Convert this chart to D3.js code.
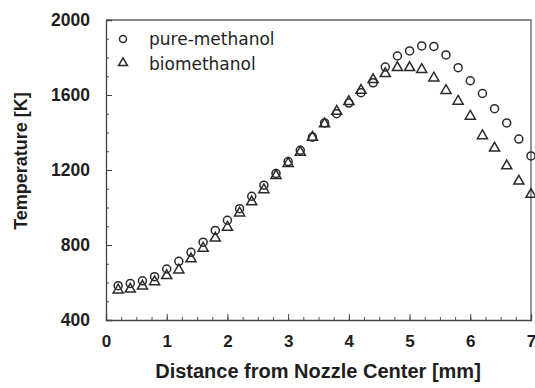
<!DOCTYPE html>
<html><head><meta charset="utf-8">
<script src="https://cdn.jsdelivr.net/npm/d3@7"></script>
<style>
html,body{margin:0;padding:0;background:#fff;}
svg{display:block;font-family:"Liberation Sans",Arial,sans-serif;}
</style></head>
<body><svg id="c" width="535" height="388"></svg>
<script>
const distance = [0.2,0.4,0.6,0.8,1.0,1.2,1.4,1.6,1.8,2.0,2.2,2.4,2.6,2.8,3.0,3.2,3.4,3.6,3.8,4.0,4.2,4.4,4.6,4.8,5.0,5.2,5.4,5.6,5.8,6.0,6.2,6.4,6.6,6.8,7.0];
const pureMethanol = [583,595,609,631,672,713,761,815,878,932,994,1060,1119,1182,1245,1305,1375,1451,1500,1557,1612,1665,1749,1808,1835,1862,1859,1814,1746,1676,1608,1527,1451,1365,1275];
const bioMethanol = [565,570,586,609,642,672,731,788,842,900,976,1035,1100,1175,1240,1300,1380,1451,1518,1570,1630,1687,1719,1751,1751,1741,1696,1629,1572,1492,1388,1322,1227,1146,1075];
const xTicks = [0,1,2,3,4,5,6,7];
const yTicks = [400,800,1200,1600,2000];
const seriesNames = ["pure-methanol","biomethanol"];
const xTitle = "Distance from Nozzle Center [mm]";
const yTitle = "Temperature [K]";

const svg = d3.select("#c");
const L=106, R=531, T=20, B=320;
const x = d3.scaleLinear().domain([0,7]).range([L,R]);
const y = d3.scaleLinear().domain([400,2000]).range([B,T]);
const ink = "#1e1e1e";

// frame (top/right)
svg.append("path").attr("d",`M${L},${T}H${R}V${B}`).attr("fill","none").attr("stroke","#8a8a8a").attr("stroke-width",1.8);

// bottom axis
const gx = svg.append("g").attr("transform",`translate(0,${B})`);
gx.call(d3.axisBottom(x).tickValues(d3.range(0,7.001,0.25)).tickSize(-3).tickFormat(""))
  .call(g=>g.select(".domain").remove());
gx.selectAll("line").attr("stroke","#555");
const gx2 = svg.append("g").attr("transform",`translate(0,${B})`);
gx2.call(d3.axisBottom(x).tickValues(xTicks).tickSize(-6).tickPadding(15).tickFormat(d3.format("d")))
  .call(g=>g.select(".domain").attr("stroke","#444").attr("stroke-width",1.3));
gx2.selectAll("line").attr("stroke","#444");
gx2.selectAll("text").attr("font-size",17).attr("font-weight","bold").attr("fill",ink).attr("font-family","Liberation Sans, Arial, sans-serif");

// left axis
const gy = svg.append("g").attr("transform",`translate(${L},0)`);
gy.call(d3.axisLeft(y).tickValues(d3.range(400,2001,100)).tickSize(-3).tickFormat(""))
  .call(g=>g.select(".domain").remove());
gy.selectAll("line").attr("stroke","#555");
const gy2 = svg.append("g").attr("transform",`translate(${L},0)`);
gy2.call(d3.axisLeft(y).tickValues(yTicks).tickSize(-6).tickPadding(16).tickFormat(d3.format("d")))
  .call(g=>g.select(".domain").attr("stroke","#444").attr("stroke-width",1.3));
gy2.selectAll("line").attr("stroke","#444");
gy2.selectAll("text").attr("font-size",17.5).attr("font-weight","bold").attr("fill",ink).attr("font-family","Liberation Sans, Arial, sans-serif");

// titles
svg.append("text").attr("x",318).attr("y",378).attr("text-anchor","middle")
  .attr("font-size",20).attr("font-weight","bold").attr("fill",ink).text(xTitle);
svg.append("text").attr("transform",`translate(27,161) rotate(-90)`).attr("text-anchor","middle")
  .attr("font-size",18).attr("font-weight","bold").attr("fill",ink).text(yTitle);

const stroke="#2a2a2a", sw=1.5;
const tri = d3.symbol().type(d3.symbolTriangle).size(44);

// data markers
const pts = distance.map((d,i)=>({d, p:pureMethanol[i], b:bioMethanol[i]}));
svg.append("g").selectAll("circle").data(pts).join("circle")
  .attr("cx",d=>x(d.d)).attr("cy",d=>y(d.p)).attr("r",4)
  .attr("fill","none").attr("stroke",stroke).attr("stroke-width",sw);
svg.append("g").selectAll("path").data(pts).join("path")
  .attr("d",tri).attr("transform",d=>`translate(${x(d.d)},${y(d.b)+1})`)
  .attr("fill","none").attr("stroke",stroke).attr("stroke-width",sw);

// legend
const lg = svg.append("g");
lg.append("circle").attr("cx",123).attr("cy",39).attr("r",3.5).attr("fill","none").attr("stroke",stroke).attr("stroke-width",sw);
lg.append("path").attr("d",d3.symbol().type(d3.symbolTriangle).size(34)).attr("transform","translate(123,63)")
  .attr("fill","none").attr("stroke",stroke).attr("stroke-width",sw);
lg.append("text").attr("x",149).attr("y",45).attr("font-size",17).attr("font-family","DejaVu Sans, sans-serif").attr("fill",ink).text(seriesNames[0]);
lg.append("text").attr("x",149).attr("y",70).attr("font-size",17).attr("font-family","DejaVu Sans, sans-serif").attr("fill",ink).text(seriesNames[1]);
</script></body></html>
